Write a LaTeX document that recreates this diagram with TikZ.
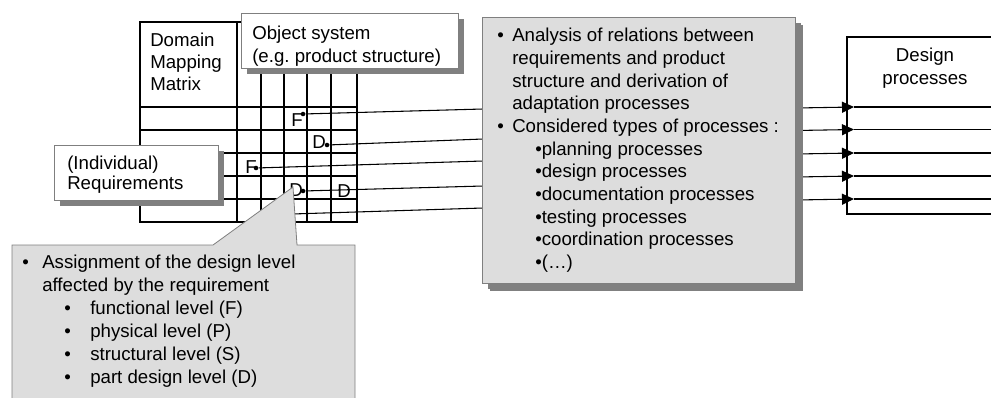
\documentclass[tikz,border=0pt]{standalone}
\usepackage{fontspec}
\setmainfont{Liberation Sans}
\usetikzlibrary{shadows,arrows.meta}
\definecolor{boxfill}{HTML}{DDDDDD}
\definecolor{shade}{HTML}{808080}
\definecolor{rim}{HTML}{7F7F7F}
\frenchspacing
\begin{document}
\begin{tikzpicture}[x=0.75pt,y=-0.75pt,
  font=\fontsize{14}{17}\selectfont,
  gridline/.style={line width=1pt,draw=black},
  link/.style={line width=0.8pt,draw=black},
  shadowed/.style={drop shadow={shadow xshift=#1,shadow yshift=-#1,fill=shade,opacity=1}},
  shbox/.style={draw=rim,fill=white,line width=0.6pt,shadowed=4.5pt,
    anchor=north west,inner sep=0pt},
  txt/.style={anchor=north west,inner sep=0pt,align=left},
  dot/.style={circle,fill=black,inner sep=0pt,minimum size=3.4pt},
  lvl/.style={inner sep=0pt},
  tip/.style={-{Triangle[length=9pt,width=8.25pt]}}]
\useasboundingbox (0,0) rectangle (991,397);

% domain mapping matrix
\draw[gridline] (140,22) rectangle (357,222);
\foreach \gx in {237,261,284,307,331} \draw[gridline] (\gx,22) -- (\gx,222);
\foreach \gy in {107,130,153,176,199} \draw[gridline] (140,\gy) -- (357,\gy);
\node[txt,font=\fontsize{14}{16.5}\selectfont] (dmm) at (150,32.4) {Domain\\Mapping\\Matrix};

% design level entries
\node[lvl] (f1) at (297,120) {F};
\node[lvl] (d1) at (319,142) {D};
\node[lvl] (f2) at (251,167) {F};
\node[lvl] (d2) at (296,190) {D};
\node[lvl] (d3) at (344,191) {D};
\node[dot] (p1) at (303,114) {};
\node[dot] (p2) at (327,145) {};
\node[dot] (p3) at (256,168) {};
\node[dot] (p4) at (303,191) {};
\coordinate (p5) at (292,214);

% links into the analysis step
\coordinate (a1) at (483,109);
\coordinate (a2) at (483,139);
\coordinate (a3) at (483,161);
\coordinate (a4) at (483,186);
\coordinate (a5) at (483,208);
\draw[link] (p1) -- (a1);
\draw[link] (p2) -- (a2);
\draw[link] (p3) -- (a3);
\draw[link] (p4) -- (a4);
\draw[link] (p5) -- (a5);

% object system and requirements
\node[shbox,minimum width=162.75pt,minimum height=41.25pt] (obj) at (241,13) {};
\node[txt] (objtext) at (252,25.7) {Object system\\(e.g. product structure)};
\node[shbox,minimum width=123pt,minimum height=41.25pt] (req) at (54,145) {};
\node[txt,font=\fontsize{14}{15}\selectfont] (reqtext) at (67,155.7) {(Individual)\\Requirements};

% callout on the design levels
\coordinate (ctip) at (293,187);
\filldraw[fill=boxfill,draw=rim,line width=0.6pt]
  (12,410) -- (12,245) -- (213,245) -- (ctip) -- (297,245) -- (355,245) -- (355,410);
\node[txt,font=\fontsize{14}{17.25}\selectfont] (note) at (22,255)
  {\makebox[15pt][l]{•}Assignment of the design level\\
   \hspace*{15pt}affected by the requirement\\
   \hspace*{31.5pt}\makebox[19.5pt][l]{•}functional level (F)\\
   \hspace*{31.5pt}\makebox[19.5pt][l]{•}physical level (P)\\
   \hspace*{31.5pt}\makebox[19.5pt][l]{•}structural level (S)\\
   \hspace*{31.5pt}\makebox[19.5pt][l]{•}part design level (D)};

% links out to the design processes
\coordinate (b1) at (796,108);
\coordinate (b2) at (796,130.5);
\coordinate (b3) at (796,154);
\coordinate (b4) at (796,177);
\coordinate (b5) at (796,200);
\coordinate (c1) at (854,107);
\coordinate (c2) at (854,129.5);
\coordinate (c3) at (854,153);
\coordinate (c4) at (854,176);
\coordinate (c5) at (854,199);
\coordinate (e1) at (1000,107);
\coordinate (e2) at (1000,129.5);
\coordinate (e3) at (1000,153);
\coordinate (e4) at (1000,176);
\coordinate (e5) at (1000,199);
\foreach \i in {1,...,5} {
  \draw[link,tip] (b\i) -- (c\i);
  \draw[link] (c\i) -- (e\i);
}

% analysis step
\node[shbox,fill=boxfill,shadowed=6pt,minimum width=234.75pt,minimum height=199.5pt] (ana) at (482,17) {};
\node[txt] (anatext) at (497,28)
  {\makebox[11.25pt][l]{•}Analysis of relations between\\
   \hspace*{11.25pt}requirements and product\\
   \hspace*{11.25pt}structure and derivation of\\
   \hspace*{11.25pt}adaptation processes\\
   \makebox[11.25pt][l]{•}Considered types of processes :\\
   \hspace*{28.5pt}•planning processes\\
   \hspace*{28.5pt}•design processes\\
   \hspace*{28.5pt}•documentation processes\\
   \hspace*{28.5pt}•testing processes\\
   \hspace*{28.5pt}•coordination processes\\
   \hspace*{28.5pt}•(…)};

% design processes
\draw[line width=0.8pt] (1000,37) -- (847,37) -- (847,214) -- (1000,214);
\node[align=center,inner sep=0pt] (dp) at (925,68) {Design\\processes};
\end{tikzpicture}
\end{document}
